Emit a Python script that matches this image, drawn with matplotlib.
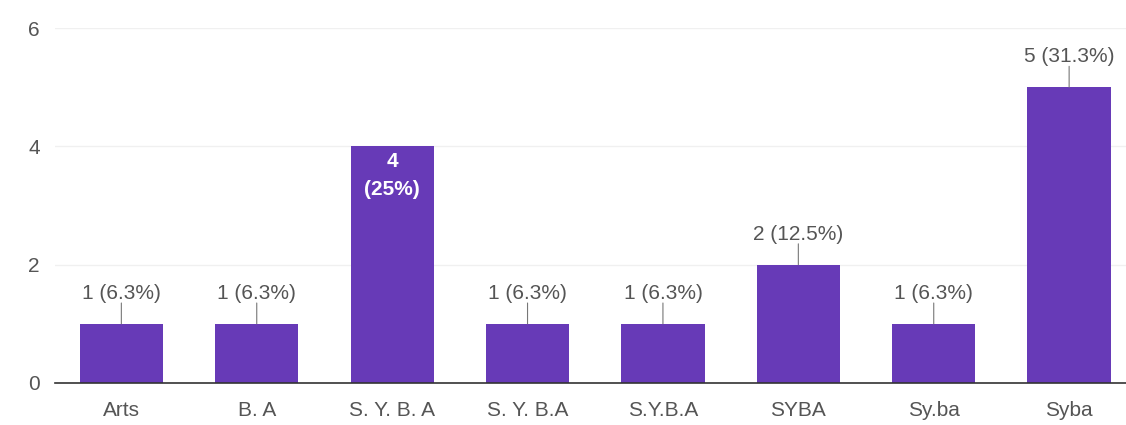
import matplotlib
matplotlib.use("Agg")
import matplotlib.pyplot as plt

categories = ["Arts", "B. A", "S. Y. B. A", "S. Y. B.A", "S.Y.B.A", "SYBA", "Sy.ba", "Syba"]
counts = [1, 1, 4, 1, 1, 2, 1, 5]
percents = ["6.3%", "6.3%", "25%", "6.3%", "6.3%", "12.5%", "6.3%", "31.3%"]
inside = [False, False, True, False, False, False, False, False]
yticks = [0, 2, 4, 6]

plt.rcParams['font.family'] = ['Liberation Sans', 'DejaVu Sans']
color = "#673ab7"
fs = 15
fig = plt.figure(figsize=(11.26, 4.25), dpi=100)
ax = fig.add_axes([55/1126, 1 - 383/425, 1 - 55/1126, (383 - 28)/425])

x = list(range(len(categories)))
ax.bar(x, counts, width=0.615, color=color, zorder=3)
ax.set_xlim(-0.49, 7.42)
ax.set_ylim(0, 6)
ax.set_yticks(yticks)
ax.set_xticks(x)
ax.set_xticklabels(categories)
ax.tick_params(axis='both', length=0, labelsize=fs, colors="#555555")
ax.tick_params(axis='x', pad=13)
ax.tick_params(axis='y', pad=11)
ax.grid(axis='y', color="#f0f0f0", linewidth=1, zorder=0)
for s in ["top", "right", "left"]:
    ax.spines[s].set_visible(False)
ax.spines["bottom"].set_color("#333333")
ax.spines["bottom"].set_linewidth(1.2)
ax.spines["bottom"].set_zorder(4)

for xi, c, p, ins in zip(x, counts, percents, inside):
    if ins:
        ax.annotate(f"{c}\n({p})", (xi, c), xytext=(0, -4), textcoords="offset points",
                    ha="center", va="top", color="white", fontsize=fs, fontweight="bold",
                    linespacing=1.6, zorder=5)
    else:
        ax.annotate("", (xi, c), xytext=(0, 15), textcoords="offset points",
                    arrowprops=dict(arrowstyle="-", color="#777777", lw=0.8,
                                    shrinkA=0, shrinkB=0), zorder=5)
        ax.annotate(f"{c} ({p})", (xi, c), xytext=(0, 15), textcoords="offset points",
                    ha="center", va="bottom", color="#555555", fontsize=fs, zorder=5)

fig.savefig("out.png", dpi=100)
